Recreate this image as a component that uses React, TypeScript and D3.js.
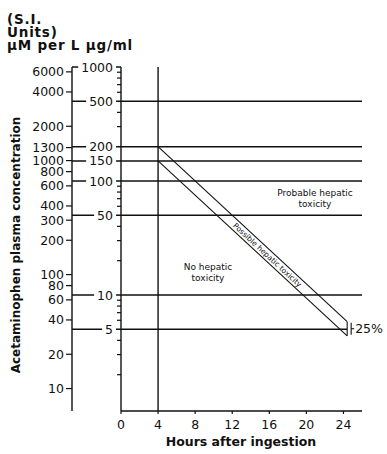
import React, { useEffect, useRef } from "react";
import * as d3 from "d3";

// hours after ingestion
const hourTicks = [0, 4, 8, 12, 16, 20, 24];
// ug/ml reference lines (labelled) and minor ticks
const ugMajor = [1000, 500, 200, 150, 100, 50, 10, 5];
const ugMinor = [900, 800, 700, 600, 400, 300, 90, 80, 70, 60, 40, 30, 20, 9, 8, 7, 6, 4, 3, 2];
// S.I. scale (umol/L)
const umolTicks = [6000, 4000, 2000, 1300, 1000, 800, 600, 400, 300, 200, 100, 80, 60, 40, 20, 10];
const UG_TO_UMOL = 6.62;
// treatment lines (hours, ug/ml)
const upperLine = [{ h: 4, v: 200 }, { h: 24.4, v: 5.84 }];
const lowerLine = [{ h: 4, v: 150 }, { h: 24.4, v: 4.38 }];

const FONT = "'DejaVu Sans', sans-serif";
const INK = "#111";

export default function App() {
  const ref = useRef<SVGSVGElement>(null);

  useEffect(() => {
    const svg = d3.select(ref.current);
    svg.selectAll("*").remove();

    const x = d3.scaleLinear().domain([0, 26]).range([121, 362]);
    const y = d3.scaleLog().domain([1, 1000]).range([409, 67]);
    const yM = d3.scaleLog().domain([UG_TO_UMOL, 1000 * UG_TO_UMOL]).range([409, 67]);
    const bottom = y(0.96);
    const ugAxis = x(0);
    const umAxis = 72;

    const g = svg.append("g").attr("stroke", INK).attr("fill", "none");

    // axes
    g.append("line").attr("x1", umAxis).attr("x2", umAxis).attr("y1", y(1000)).attr("y2", bottom).attr("stroke-width", 1.4);
    g.append("line").attr("x1", ugAxis).attr("x2", ugAxis).attr("y1", y(1000)).attr("y2", bottom).attr("stroke-width", 1.4);
    g.append("line").attr("x1", ugAxis).attr("x2", x(26)).attr("y1", bottom).attr("y2", bottom).attr("stroke-width", 1.4);
    g.append("line").attr("x1", x(4)).attr("x2", x(4)).attr("y1", y(1000)).attr("y2", bottom).attr("stroke-width", 1.4);

    // reference lines
    g.selectAll(".ref").data(ugMajor).join("line").attr("class", "ref")
      .attr("x1", umAxis)
      .attr("x2", d => d === 1000 ? ugAxis : d === 5 ? x(upperLine[1].h) : x(26))
      .attr("y1", d => y(d)).attr("y2", d => y(d))
      .attr("stroke-width", 1.4);

    // minor ticks ug/ml
    g.selectAll(".minor").data(ugMinor).join("line").attr("class", "minor")
      .attr("x1", ugAxis - 4).attr("x2", ugAxis)
      .attr("y1", d => y(d)).attr("y2", d => y(d)).attr("stroke-width", 1.2);

    // umol ticks
    g.selectAll(".umt").data(umolTicks).join("line").attr("class", "umt")
      .attr("x1", umAxis - 6).attr("x2", umAxis)
      .attr("y1", d => yM(d)).attr("y2", d => yM(d)).attr("stroke-width", 1.2);

    // x ticks
    g.selectAll(".xt").data(hourTicks).join("line").attr("class", "xt")
      .attr("x1", d => x(d)).attr("x2", d => x(d))
      .attr("y1", bottom).attr("y2", bottom + 3).attr("stroke-width", 1.2);

    // umol labels
    svg.selectAll(".uml").data(umolTicks).join("text").attr("class", "uml")
      .attr("x", umAxis - 8).attr("y", d => yM(d)).attr("dy", "0.36em")
      .attr("text-anchor", "end").attr("font-family", FONT).attr("font-size", 12.5).attr("fill", INK)
      .text(d => d);

    // ug labels with white background
    ugMajor.forEach(v => {
      const t = svg.append("text")
        .attr("x", 113).attr("y", y(v)).attr("dy", "0.36em")
        .attr("text-anchor", "end").attr("font-family", FONT).attr("font-size", 12.5).attr("fill", INK)
        .text(v);
      const b = (t.node() as SVGTextElement).getBBox();
      svg.insert("rect", () => t.node())
        .attr("x", b.x - 3).attr("y", y(v) - 3).attr("width", b.width + 6).attr("height", 6)
        .attr("fill", "#fff");
    });

    // x labels
    svg.selectAll(".xl").data(hourTicks).join("text").attr("class", "xl")
      .attr("x", d => x(d)).attr("y", bottom + 18)
      .attr("text-anchor", "middle").attr("font-family", FONT).attr("font-size", 12.5).attr("fill", INK)
      .text(d => d);

    // treatment band
    const line = d3.line<{ h: number; v: number }>().x(d => x(d.h)).y(d => y(d.v));
    g.append("path").attr("d", line(upperLine)).attr("stroke-width", 1.1);
    g.append("path").attr("d", line(lowerLine)).attr("stroke-width", 1.1);
    const endX = x(upperLine[1].h);
    g.append("line").attr("x1", endX).attr("x2", endX)
      .attr("y1", y(upperLine[1].v)).attr("y2", y(lowerLine[1].v)).attr("stroke-width", 1.1);

    // 25% bracket
    const bx = endX + 4;
    const yTop = y(upperLine[1].v) + 1;
    const yBot = y(lowerLine[1].v) - 1;
    g.append("line").attr("x1", bx).attr("x2", bx).attr("y1", yTop).attr("y2", yBot).attr("stroke-width", 1.1);
    g.append("line").attr("x1", bx).attr("x2", bx + 3).attr("y1", (yTop + yBot) / 2).attr("y2", (yTop + yBot) / 2).attr("stroke-width", 1.1);
    svg.append("text").attr("x", bx + 4).attr("y", (yTop + yBot) / 2).attr("dy", "0.36em")
      .attr("font-family", FONT).attr("font-size", 12.5).attr("fill", INK).text("25%");

    // band label
    const x0 = x(upperLine[0].h), x1 = x(upperLine[1].h);
    const yu0 = y(upperLine[0].v), yu1 = y(upperLine[1].v);
    const yl0 = y(lowerLine[0].v), yl1 = y(lowerLine[1].v);
    const angle = Math.atan2(yu1 - yu0, x1 - x0) * 180 / Math.PI;
    const tMid = (15.8 - upperLine[0].h) / (upperLine[1].h - upperLine[0].h);
    const mx = x0 + (x1 - x0) * tMid;
    const my = ((yu0 + (yu1 - yu0) * tMid) + (yl0 + (yl1 - yl0) * tMid)) / 2;
    svg.append("text")
      .attr("transform", `translate(${mx},${my}) rotate(${angle})`)
      .attr("text-anchor", "middle").attr("dy", "0.35em")
      .attr("font-family", FONT).attr("font-size", 7.5).attr("fill", INK)
      .text("Possible hepatic toxicity");

    // region labels
    const region = (lines: string[], cx: number, cy: number) => {
      lines.forEach((s, i) => {
        svg.append("text").attr("x", cx).attr("y", cy + i * 11).attr("dy", "0.35em")
          .attr("text-anchor", "middle").attr("font-family", FONT).attr("font-size", 9).attr("fill", INK)
          .text(s);
      });
    };
    region(["Probable hepatic", "toxicity"], 315, 193);
    region(["No hepatic", "toxicity"], 208, 267);

    // titles
    svg.append("text").attr("x", 241).attr("y", bottom + 35)
      .attr("text-anchor", "middle").attr("font-family", FONT).attr("font-weight", "bold")
      .attr("font-size", 12.5).attr("fill", INK).text("Hours after ingestion");
    svg.append("text").attr("transform", `translate(20,245) rotate(-90)`)
      .attr("text-anchor", "middle").attr("font-family", FONT).attr("font-weight", "bold")
      .attr("font-size", 12).attr("fill", INK).text("Acetaminophen plasma concentration");

    const head = ["(S.I.", "Units)", "\u03bcM per L \u03bcg/ml"];
    head.forEach((s, i) => {
      svg.append("text").attr("x", 7).attr("y", 24 + i * 13)
        .attr("font-family", FONT).attr("font-weight", "bold").attr("font-size", 13.5)
        .attr("letter-spacing", 0.8).attr("fill", INK)
        .text(s);
    });
  }, []);

  return (
    <svg ref={ref} width={387} height={454}
      style={{ position: "absolute", left: 0, top: 0, background: "#fff" }} />
  );
}
